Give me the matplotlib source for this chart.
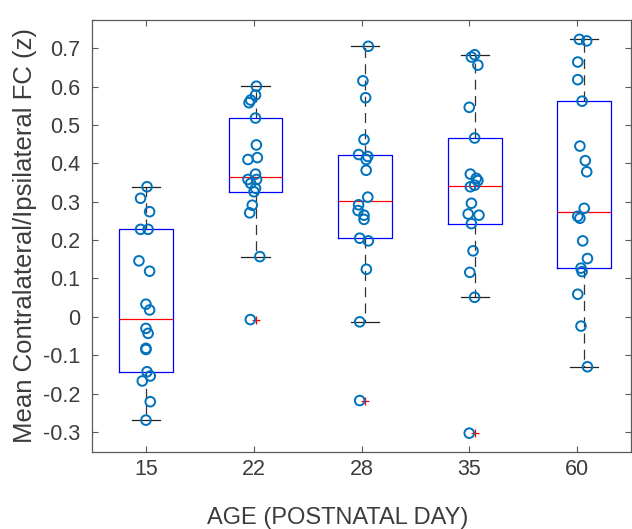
import numpy as np
import matplotlib
matplotlib.use("Agg")
import matplotlib.pyplot as plt

# Edad postnatal (días) y FC contralateral/ipsilateral medio (z) por animal
edades = ["15", "22", "28", "35", "60"]

fc_p15 = [0.339, 0.309, 0.274, 0.228, 0.228, 0.146, 0.119, 0.033, 0.018,
          -0.030, -0.043, -0.082, -0.085, -0.143, -0.154, -0.167, -0.221, -0.269]
fc_p22 = [0.601, 0.578, 0.565, 0.558, 0.518, 0.448, 0.415, 0.410, 0.372,
          0.358, 0.358, 0.348, 0.335, 0.326, 0.291, 0.271, 0.157, -0.007]
fc_p28 = [0.705, 0.615, 0.571, 0.462, 0.423, 0.418, 0.410, 0.382, 0.312,
          0.292, 0.277, 0.265, 0.254, 0.205, 0.198, 0.124, -0.013, -0.218]
fc_p35 = [0.683, 0.677, 0.656, 0.546, 0.466, 0.372, 0.361, 0.355, 0.343,
          0.339, 0.296, 0.268, 0.265, 0.243, 0.172, 0.116, 0.051, -0.303]
fc_p60 = [0.723, 0.719, 0.664, 0.618, 0.562, 0.445, 0.407, 0.378, 0.283,
          0.262, 0.257, 0.198, 0.152, 0.127, 0.118, 0.059, -0.024, -0.130]

# desplazamiento horizontal de cada punto (jitter) respecto al centro de su caja
jit_p15 = [0.01, -0.05, 0.034, -0.05, 0.02, -0.065, 0.034, 0.0, 0.034,
           0.0, 0.02, 0.0, 0.0, 0.01, 0.04, -0.034, 0.04, 0.0]
jit_p22 = [0.008, 0.0, -0.045, -0.06, 0.0, 0.008, 0.017, -0.07, 0.0,
           -0.07, 0.01, -0.045, 0.0, -0.014, -0.03, -0.054, 0.04, -0.048]
jit_p28 = [0.03, -0.02, 0.005, -0.01, -0.06, 0.025, 0.01, 0.01, 0.025,
           -0.06, -0.065, -0.01, -0.01, -0.05, 0.03, 0.012, -0.05, -0.05]
jit_p35 = [0.0, -0.03, 0.03, -0.05, 0.0, -0.04, 0.015, 0.03, 0.0,
           -0.04, -0.03, -0.06, 0.04, -0.03, -0.015, -0.045, 0.0, -0.05]
jit_p60 = [-0.045, 0.023, -0.06, -0.06, -0.02, -0.04, 0.01, 0.023, 0.0,
           -0.06, -0.04, -0.014, 0.03, -0.03, -0.02, -0.06, -0.03, 0.03]

grupos = [fc_p15, fc_p22, fc_p28, fc_p35, fc_p60]
jitters = [jit_p15, jit_p22, jit_p28, jit_p35, jit_p60]

AZUL_PUNTOS = "#0072BD"
GRIS_EJES = "#5a5a5a"
GRIS_TEXTO = "#3c3c3c"

plt.rcParams["font.family"] = ["Liberation Sans", "DejaVu Sans"]


def estadisticos_caja(valores):
    """Cuartiles como prctile (Hazen) y bigotes a 1.5*IQR."""
    v = np.sort(np.asarray(valores))
    q1, med, q3 = np.percentile(v, [25, 50, 75], method="hazen")
    iqr = q3 - q1
    dentro = v[(v >= q1 - 1.5 * iqr) & (v <= q3 + 1.5 * iqr)]
    fuera = v[(v < q1 - 1.5 * iqr) | (v > q3 + 1.5 * iqr)]
    return dict(med=med, q1=q1, q3=q3, whislo=dentro.min(),
                whishi=dentro.max(), fliers=fuera)


fig = plt.figure(figsize=(6.32, 5.29), dpi=100)
ax = fig.add_axes([0.1456, 0.1456, 0.8532, 0.8166])

marcas = np.arange(1, len(grupos) + 1)
# las cajas quedan algo más separadas que las marcas del eje x
posiciones = 1 + 1.016 * (marcas - 1)
stats = [estadisticos_caja(g) for g in grupos]

ax.bxp(stats, positions=posiciones, widths=0.5, capwidths=0.26,
       boxprops=dict(color="blue", linewidth=0.9),
       medianprops=dict(color="red", linewidth=0.9),
       whiskerprops=dict(color="#333333", linewidth=0.9,
                         linestyle=(0, (8, 5))),
       capprops=dict(color="#222222", linewidth=0.9),
       flierprops=dict(marker="+", markeredgecolor="red", markersize=6,
                       markeredgewidth=0.9, linestyle="none"),
       manage_ticks=False)

for pos, valores, jit in zip(posiciones, grupos, jitters):
    ax.scatter(pos + np.asarray(jit), valores, s=48, facecolors="none",
               edgecolors=AZUL_PUNTOS, linewidths=1.4, zorder=3)

ax.set_xlim(0.5, 5.5)
ax.set_ylim(-0.352, 0.7735)
ax.set_xticks(marcas)
ax.set_xticklabels(edades)
ax.set_yticks(np.round(np.arange(-0.3, 0.71, 0.1), 1))
ax.set_yticklabels(["-0.3", "-0.2", "-0.1", "0", "0.1", "0.2", "0.3",
                    "0.4", "0.5", "0.6", "0.7"])

ax.tick_params(direction="in", length=4, width=0.8, colors=GRIS_EJES,
               labelcolor=GRIS_TEXTO, labelsize=15.5, top=True, right=True)
ax.tick_params(axis="y", pad=8.5)
ax.tick_params(axis="x", pad=5)
for lado in ax.spines.values():
    lado.set_color(GRIS_EJES)
    lado.set_linewidth(0.9)

ax.set_xlabel("AGE (POSTNATAL DAY)", fontsize=17, color=GRIS_TEXTO)
ax.xaxis.set_label_coords(0.455, -0.128)
ax.set_ylabel("Mean Contralateral/Ipsilateral FC (z)", fontsize=18.5,
              color=GRIS_TEXTO, labelpad=4)

fig.savefig("out.png", dpi=100)
